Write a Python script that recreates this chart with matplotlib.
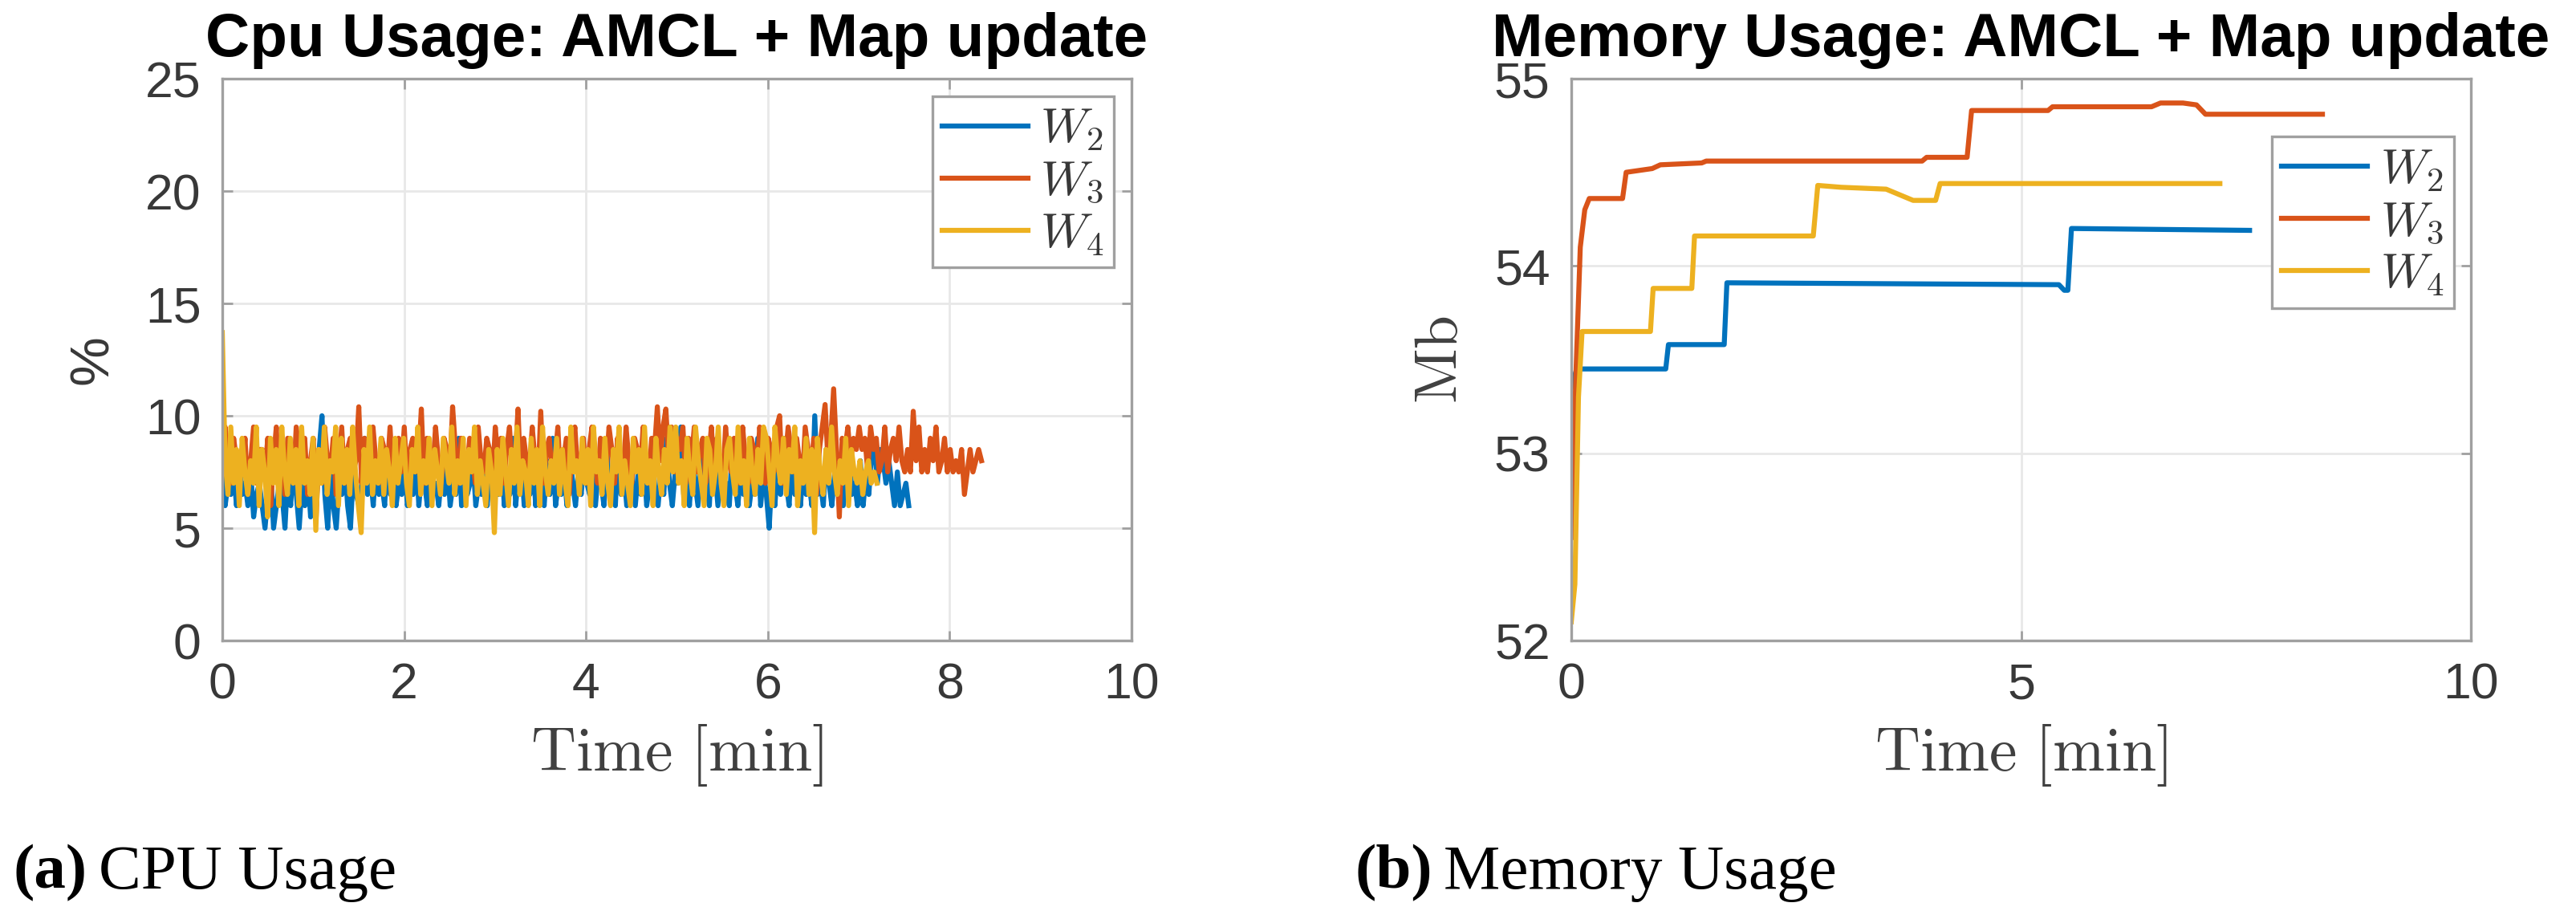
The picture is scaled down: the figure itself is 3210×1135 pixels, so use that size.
import numpy as np
import matplotlib
matplotlib.use('Agg')
import matplotlib.pyplot as plt

# colours (MATLAB default order)
blue = '#0072BD'
orange = '#D95319'
yellow = '#EDB120'
labels = [r'$W_2$', r'$W_3$', r'$W_4$']

# CPU usage [%], sampled evenly from 0 to the end time of each run
# (one row = half a minute)
cpuEndW2 = 7.55
cpuEndW3 = 8.35
cpuEndW4 = 7.2
cpuW2 = [7.5, 6.0, 7.0, 6.5, 7.5, 6.0, 8.0, 6.5, 7.0, 6.0, 7.5, 5.5, 6.5, 7.0, 6.0, 5.0,
         6.5, 7.5, 5.0, 6.0, 7.0, 6.5, 5.0, 7.5, 6.0, 8.0, 6.5, 5.0, 7.0, 6.0, 7.5, 5.5,
         7.0, 6.0, 8.5, 10.0, 6.5, 5.0, 7.5, 6.0, 5.0, 7.0, 6.5, 8.0, 6.0, 5.0, 7.5, 6.5,
         6.0, 7.0, 9.0, 6.5, 7.5, 6.0, 8.0, 6.5, 7.0, 6.0, 8.5, 6.5, 7.5, 6.0, 7.0, 6.5,
         8.0, 6.0, 7.0, 6.5, 8.5, 6.0, 7.5, 7.0, 6.0, 8.0, 6.5, 7.0, 6.0, 7.5, 6.5, 8.0,
         6.0, 7.0, 6.5, 9.0, 6.0, 7.5, 6.5, 7.0, 8.0, 6.0, 7.0, 6.5, 7.5, 6.0, 8.0, 6.5,
         7.5, 6.5, 8.5, 6.0, 7.0, 6.5, 9.0, 6.0, 7.5, 8.0, 6.0, 7.0, 6.5, 8.5, 6.0, 7.5,
         7.0, 6.0, 8.0, 6.5, 9.0, 6.0, 7.0, 6.5, 7.5, 6.0, 8.5, 7.0, 6.0, 7.5, 6.5, 8.0,
         7.0, 6.5, 8.0, 6.0, 7.5, 7.0, 6.0, 8.5, 6.5, 7.0, 6.0, 9.0, 6.5, 7.5, 6.0, 8.0,
         7.0, 6.0, 7.5, 6.5, 8.0, 6.0, 7.0, 8.5, 6.5, 6.0, 7.5, 6.5, 9.0, 7.0, 6.0, 7.5,
         7.0, 9.5, 6.5, 7.5, 6.0, 8.0, 7.0, 6.0, 8.5, 6.5, 7.0, 6.0, 9.0, 7.5, 6.0, 8.0,
         6.5, 7.0, 6.0, 8.5, 7.0, 6.0, 7.5, 6.5, 8.0, 6.0, 7.0, 6.5, 9.0, 6.0, 7.5, 6.5,
         5.0, 7.5, 6.0, 8.0, 6.5, 9.0, 7.0, 6.0, 8.5, 6.5, 7.5, 6.0, 8.0, 6.5, 7.0, 6.0,
         10.0, 6.5, 7.0, 6.0, 8.5, 7.0, 6.0, 7.5, 6.5, 8.0, 6.0, 7.5, 9.0, 6.5, 7.0, 6.0,
         8.0, 6.0, 7.5, 6.5, 8.5, 8.5, 7.0, 8.5, 8.0, 7.0, 8.0, 7.0, 6.0, 7.5, 6.0, 6.5,
         7.0, 6.0]
cpuW3 = [7.5, 9.5, 8.0, 7.0, 9.0, 8.0, 8.0, 7.5, 9.0, 6.5, 8.0, 9.5, 7.0, 8.5, 8.5, 7.5,
         9.0, 6.0, 8.0, 9.5, 7.0, 8.5, 6.5, 9.0, 8.0, 7.0, 9.5, 8.5, 7.5, 9.0, 6.5, 8.0,
         9.0, 5.5, 8.5, 7.0, 9.5, 8.0, 7.5, 9.0, 6.5, 8.0, 9.5, 7.0, 8.5, 9.0, 7.5, 8.0,
         10.4, 7.0, 9.0, 8.0, 7.5, 9.5, 8.0, 7.0, 9.0, 8.5, 7.5, 9.5, 7.0, 8.5, 9.0, 7.5,
         9.5, 7.0, 8.5, 9.0, 7.5, 8.0, 10.3, 7.0, 9.0, 8.0, 7.5, 9.5, 8.0, 7.0, 9.0, 8.5,
         7.5, 10.4, 8.5, 7.0, 9.0, 8.0, 7.5, 9.0, 8.0, 7.0, 9.5, 8.0, 7.5, 9.0, 8.5, 7.0,
         9.5, 8.0, 9.0, 7.0, 8.5, 9.5, 7.5, 8.0, 10.3, 7.0, 9.0, 8.0, 7.5, 9.5, 8.0, 7.0,
         10.2, 7.0, 8.5, 9.0, 7.5, 8.0, 9.5, 7.0, 8.0, 9.0, 6.5, 8.5, 9.5, 7.5, 8.0, 9.0,
         7.0, 8.5, 9.5, 8.0, 7.0, 9.0, 8.0, 7.5, 9.5, 8.5, 7.0, 9.0, 8.0, 7.5, 9.5, 8.0,
         7.0, 9.0, 8.5, 7.5, 9.5, 8.0, 7.0, 9.0, 8.5, 10.4, 8.0, 9.5, 10.3, 8.0, 9.5, 7.5,
         9.0, 8.5, 9.5, 7.0, 9.0, 8.0, 9.5, 7.5, 8.5, 9.0, 7.0, 8.0, 9.5, 7.5, 9.0, 8.0,
         7.0, 9.5, 8.0, 7.5, 9.0, 8.5, 7.0, 9.5, 8.0, 7.0, 9.0, 8.5, 7.5, 9.5, 8.0, 7.0,
         9.0, 8.5, 7.5, 9.5, 10.0, 7.0, 8.0, 9.5, 8.5, 7.5, 9.0, 8.0, 7.0, 9.5, 8.5, 7.5,
         9.0, 6.5, 8.5, 9.5, 10.5, 8.0, 9.0, 11.2, 8.5, 5.5, 9.0, 8.5, 9.5, 8.0, 9.0, 8.5,
         9.5, 8.5, 9.0, 7.5, 9.5, 8.5, 9.0, 7.5, 8.0, 9.5, 7.5, 8.5, 9.0, 8.0, 9.5, 8.0,
         7.5, 8.5, 7.5, 10.2, 8.0, 9.5, 7.5, 8.5, 7.5, 9.0, 8.0, 9.5, 7.5, 8.0, 9.0, 7.5,
         8.5, 7.5, 8.0, 7.5, 8.5, 6.5, 7.5, 8.5, 7.5, 8.0, 8.5, 8.0]
cpuW4 = [13.7, 8.0, 6.5, 9.5, 7.0, 8.5, 6.0, 9.0, 7.5, 6.5, 8.0, 7.0, 9.5, 6.0, 8.5, 7.5,
         5.5, 9.0, 7.0, 8.5, 6.0, 9.5, 7.5, 6.5, 9.0, 7.0, 8.5, 6.0, 9.5, 7.0, 8.0, 6.5,
         9.0, 4.9, 8.5, 7.0, 9.5, 6.5, 8.0, 7.5, 9.5, 6.0, 9.0, 7.0, 8.5, 6.5, 9.5, 7.5,
         6.0, 4.8, 8.5, 7.0, 9.5, 6.5, 8.0, 7.0, 9.0, 6.5, 8.5, 7.5, 6.0, 9.0, 7.0, 8.0,
         9.0, 7.0, 6.0, 8.5, 7.5, 9.5, 6.5, 8.0, 7.0, 9.0, 6.0, 8.5, 7.5, 6.5, 9.0, 8.0,
         7.0, 9.5, 6.5, 8.0, 7.0, 9.0, 6.0, 8.5, 7.5, 9.5, 6.5, 8.0, 7.0, 6.0, 8.5, 7.5,
         4.8, 8.5, 6.5, 9.0, 7.5, 6.0, 8.5, 7.0, 9.5, 6.5, 8.0, 7.5, 6.0, 9.0, 7.0, 8.5,
         6.0, 9.5, 7.5, 6.5, 8.0, 7.0, 9.0, 6.5, 8.5, 7.0, 6.0, 9.5, 7.5, 8.0, 6.5, 9.0,
         7.0, 8.5, 6.0, 9.5, 7.5, 8.0, 6.5, 9.0, 7.0, 6.0, 8.5, 7.5, 9.5, 6.5, 8.0, 7.0,
         6.0, 9.0, 7.5, 8.5, 6.5, 9.5, 7.0, 8.0, 6.0, 9.0, 7.5, 6.5, 8.5, 7.0, 9.5, 7.5,
         9.5, 7.0, 8.0, 6.0, 9.0, 7.5, 6.5, 9.5, 8.0, 7.0, 6.0, 9.0, 8.5, 6.5, 7.5, 9.5,
         7.0, 6.0, 8.5, 9.0, 7.5, 6.5, 9.5, 7.0, 8.0, 6.0, 9.0, 7.5, 6.5, 8.5, 7.0, 9.5,
         9.0, 7.5, 6.0, 9.5, 8.0, 7.0, 9.0, 6.5, 8.5, 7.5, 9.5, 6.0, 8.0, 7.0, 9.0, 6.5,
         8.5, 4.8, 9.0, 7.5, 6.5, 8.5, 7.0, 9.5, 7.5, 6.5, 8.0, 7.0, 9.0, 6.0, 8.5, 7.5,
         7.0, 8.0, 6.5, 7.5, 8.0, 7.0, 7.5, 7.0]

# memory usage [Mb], breakpoints
memTimeW2 = [0.0, 0.03, 0.06, 1.05, 1.08, 1.70, 1.73, 5.42, 5.48, 5.52, 5.56, 7.54]
memW2 = [53.35, 53.40, 53.45, 53.45, 53.58, 53.58, 53.91, 53.90, 53.87, 53.87, 54.20, 54.19]
memTimeW3 = [0.0, 0.05, 0.10, 0.15, 0.20, 0.57, 0.61, 0.90, 0.99, 1.45, 1.50, 3.90,
             3.95, 4.40, 4.45, 5.30, 5.35, 6.45, 6.55, 6.80, 6.95, 7.05, 8.35]
memW3 = [52.55, 53.40, 54.10, 54.30, 54.36, 54.36, 54.50, 54.52, 54.54, 54.55, 54.56, 54.56,
         54.58, 54.58, 54.83, 54.83, 54.85, 54.85, 54.87, 54.87, 54.86, 54.81, 54.81]
memTimeW4 = [0.0, 0.04, 0.08, 0.12, 0.88, 0.91, 1.34, 1.37, 2.69, 2.74, 3.00, 3.50,
             3.80, 4.05, 4.10, 7.21]
memW4 = [52.10, 52.30, 53.30, 53.65, 53.65, 53.88, 53.88, 54.16, 54.16, 54.43, 54.42, 54.41,
         54.35, 54.35, 54.44, 54.44]

W, H = 3210, 1135
sansFont = 'Liberation Sans'
serifFont = 'Liberation Serif'
gridGray = '#e8e8e8'
axisGray = '#a0a0a0'
textGray = '#383838'
lineWidth = 4.5


def styleAxes(ax):
    for s in ax.spines.values():
        s.set_color(axisGray)
        s.set_linewidth(2.4)
    ax.tick_params(direction='in', length=9, width=2, color=axisGray,
                   top=True, right=True, labelsize=45, labelcolor=textGray, pad=19)
    for lab in ax.get_xticklabels() + ax.get_yticklabels():
        lab.set_fontfamily(sansFont)
    ax.grid(True, color=gridGray, linewidth=2)
    ax.set_axisbelow(True)


def addLegend(ax, anchor):
    leg = ax.legend(labels, loc='upper right', bbox_to_anchor=anchor, fontsize=44,
                    fancybox=False, framealpha=1, edgecolor=axisGray,
                    handlelength=1.75, handletextpad=0.25, labelspacing=0.1,
                    borderpad=0.2, borderaxespad=0)
    leg.get_frame().set_linewidth(2.4)
    for t in leg.get_texts():
        t.set_color(textGray)


def axesRect(left, right, top, bottom):
    return [left / W, 1 - bottom / H, (right - left) / W, (bottom - top) / H]


def cpuPanel(fig):
    ax = fig.add_axes(axesRect(277, 1410, 98, 798))
    for vals, end, c in [(cpuW2, cpuEndW2, blue), (cpuW3, cpuEndW3, orange),
                         (cpuW4, cpuEndW4, yellow)]:
        t = np.linspace(0, end, len(vals))
        ax.plot(t, vals, color=c, linewidth=lineWidth)
    ax.set_xlim(0, 10)
    ax.set_ylim(0, 25)
    ax.set_xticks([0, 2, 4, 6, 8, 10])
    ax.set_yticks([0, 5, 10, 15, 20, 25])
    styleAxes(ax)
    ax.set_title('Cpu Usage: AMCL + Map update', fontsize=55, fontweight='bold',
                 fontfamily=sansFont, pad=20)
    ax.set_xlabel(r'$\mathrm{Time\ [min]}$', fontsize=56, color='#404040')
    ax.xaxis.set_label_coords(0.5, -0.145)
    ax.set_ylabel('%', fontsize=50, fontfamily=sansFont, color=textGray)
    ax.yaxis.set_label_coords(-0.114, 0.5)
    addLegend(ax, (0.981, 0.969))


def memPanel(fig):
    ax = fig.add_axes(axesRect(1958, 3079, 98, 798))
    ax.plot(memTimeW2, memW2, color=blue, linewidth=lineWidth)
    ax.plot(memTimeW3, memW3, color=orange, linewidth=lineWidth)
    ax.plot(memTimeW4, memW4, color=yellow, linewidth=lineWidth)
    ax.set_xlim(0, 10)
    ax.set_ylim(52, 55)
    ax.set_xticks([0, 5, 10])
    ax.set_yticks([52, 53, 54, 55])
    styleAxes(ax)
    ax.set_title('Memory Usage: AMCL + Map update', fontsize=55, fontweight='bold',
                 fontfamily=sansFont, pad=20)
    ax.set_xlabel(r'$\mathrm{Time\ [min]}$', fontsize=56, color='#404040')
    ax.xaxis.set_label_coords(0.5, -0.145)
    ax.set_ylabel(r'$\mathrm{Mb}$', fontsize=54, color='#404040')
    ax.yaxis.set_label_coords(-0.112, 0.5)
    addLegend(ax, (0.981, 0.897))


def caption(fig, x, tag, text):
    renderer = fig.canvas.get_renderer()
    y = 1 - 1088 / H
    t1 = fig.text(x / W, y, tag, fontsize=57, fontweight='bold',
                  fontfamily=serifFont, va='center')
    bb = t1.get_window_extent(renderer)
    fig.text((bb.x1 + 14) / W, y, text, fontsize=57, fontfamily=serifFont, va='center')


def main():
    plt.rcParams['mathtext.fontset'] = 'cm'
    fig = plt.figure(figsize=(W / 100, H / 100), dpi=100)
    cpuPanel(fig)
    memPanel(fig)
    caption(fig, 17, '(a)', 'CPU Usage')
    caption(fig, 1688, '(b)', 'Memory Usage')
    fig.savefig('out.png', dpi=100, facecolor='white')


if __name__ == "__main__":
    main()
